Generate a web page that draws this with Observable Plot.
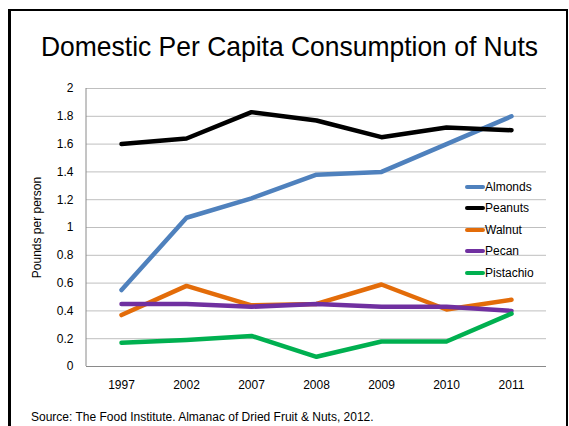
<!DOCTYPE html>
<html>
<head>
<meta charset="utf-8">
<script src="https://cdn.jsdelivr.net/npm/d3@7"></script>
<script src="https://cdn.jsdelivr.net/npm/@observablehq/plot@0.6"></script>
<style>
  html, body { margin: 0; padding: 0; background: #fff; }
  #wrap { position: relative; width: 569px; height: 426px; overflow: hidden; font-family: "Liberation Sans", Arial, sans-serif; color: #000; }
  #border { position: absolute; left: 8px; top: 9px; width: 555px; height: 430px; border-left: 3px solid #000; border-top: 2px solid #000; border-right: 2px solid #000; pointer-events: none; }
  #title { height: 80px; box-sizing: border-box; padding-top: 31px; font-size: 28px; line-height: 32px; white-space: nowrap; position: relative; }
  #title span { display: inline-block; position: absolute; left: 41px; transform-origin: 0 50%; }
  #caption { height: 30px; box-sizing: border-box; padding-top: 14px; padding-left: 31px; font-size: 12px; line-height: 14px; }
  #legend { position: absolute; left: 465px; top: 176px; font-size: 12px; }
  .li { display: flex; align-items: center; height: 21.5px; }
  .sw { width: 20px; height: 4px; border-radius: 2px; }
  .li span { line-height: 14px; }
  svg { display: block; }
</style>
</head>
<body>
<div id="wrap">
  <div id="title"><span>Domestic Per Capita Consumption of Nuts</span></div>
  <div id="chart"></div>
  <div id="caption">Source: The Food Institute. Almanac of Dried Fruit &amp; Nuts, 2012.</div>
  <div id="legend"></div>
  <div id="border"></div>
</div>
<script>
const years = ["1997", "2002", "2007", "2008", "2009", "2010", "2011"];
const almonds = [0.55, 1.07, 1.21, 1.38, 1.40, 1.60, 1.80];
const peanuts = [1.60, 1.64, 1.83, 1.77, 1.65, 1.72, 1.70];
const walnut = [0.37, 0.58, 0.44, 0.45, 0.59, 0.41, 0.48];
const pecan = [0.45, 0.45, 0.43, 0.45, 0.43, 0.43, 0.40];
const pistachio = [0.17, 0.19, 0.22, 0.07, 0.18, 0.18, 0.38];
const seriesNames = ["Almonds", "Peanuts", "Walnut", "Pecan", "Pistachio"];
const seriesValues = [almonds, peanuts, walnut, pecan, pistachio];
const seriesColors = ["#4F81BD", "#000000", "#E36C09", "#7030A0", "#00B050"];
const yTicks = [0, 0.2, 0.4, 0.6, 0.8, 1, 1.2, 1.4, 1.6, 1.8, 2];

const rows = [];
seriesNames.forEach((name, i) => {
  years.forEach((yr, j) => rows.push({series: name, year: yr, value: seriesValues[i][j]}));
});

const plot = Plot.plot({
  width: 569,
  height: 316,
  marginTop: 8,
  marginBottom: 30,
  marginLeft: 86,
  marginRight: 23,
  style: {fontFamily: "'Liberation Sans', Arial, sans-serif", fontSize: "12px", color: "#000", background: "transparent"},
  x: {type: "point", domain: years, padding: 0.5, label: null, tickSize: 0, tickPadding: 14},
  y: {domain: [0, 2], ticks: yTicks, tickFormat: d => String(+d.toFixed(1)), tickSize: 0, tickPadding: 13,
      label: "Pounds per person", labelAnchor: "center", labelOffset: 54, labelArrow: "none"},
  color: {domain: seriesNames, range: seriesColors},
  marks: [
    Plot.ruleY(yTicks.filter(d => d > 0), {stroke: "#bfbfbf", strokeWidth: 1}),
    Plot.ruleY([0], {stroke: "#8a8a8a", strokeWidth: 1}),
    Plot.line(rows, {x: "year", y: "value", z: "series", stroke: "series", strokeWidth: 4.5,
      strokeLinecap: "round", strokeLinejoin: "round"})
  ]
});

// left axis line along the plot's left edge, placed with the plot's own scales
const xs = plot.scale("x"), ys = plot.scale("y");
d3.select(plot).append("line")
  .attr("x1", xs.range[0]).attr("x2", xs.range[0])
  .attr("y1", ys.range[0]).attr("y2", ys.range[1])
  .attr("stroke", "#8a8a8a").attr("stroke-width", 1);

document.getElementById("chart").appendChild(plot);

const legend = d3.select("#legend");
seriesNames.forEach((name, i) => {
  const row = legend.append("div").attr("class", "li");
  row.append("div").attr("class", "sw").style("background", seriesColors[i]);
  row.append("span").text(name);
});

// condense the title to the reference's width (condensed face is not installed)
const t = document.querySelector("#title span");
const w = t.getBoundingClientRect().width;
t.style.transform = `scaleX(${497 / w})`;
</script>
</body>
</html>
